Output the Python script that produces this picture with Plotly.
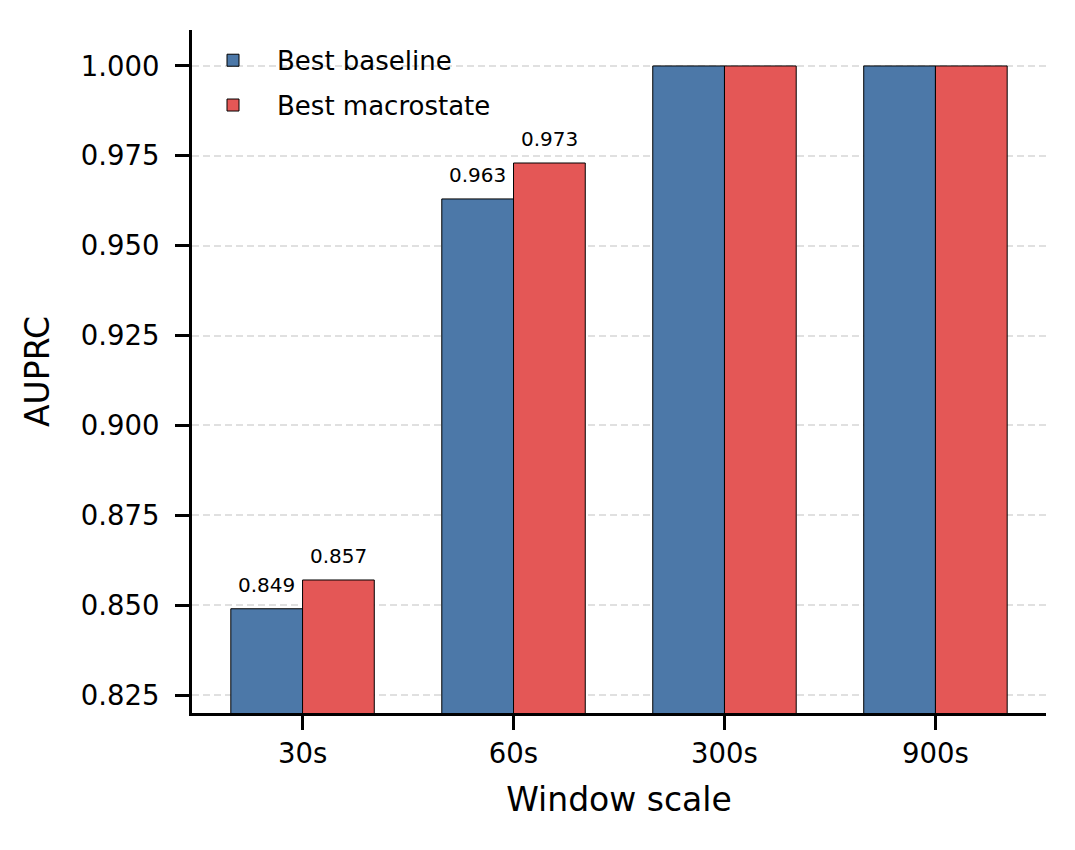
import numpy as np
import plotly.graph_objects as go

# ---- data ----
categories = ["30s", "60s", "300s", "900s"]
baseline = [0.849, 0.963, 1.000, 1.000]
macrostate = [0.857, 0.973, 1.000, 1.000]
series_names = ["Best baseline", "Best macrostate"]
y_ticks = [0.825, 0.850, 0.875, 0.900, 0.925, 0.950, 0.975, 1.000]

# ---- style ----
BLUE = "#4C78A8"
RED = "#E45756"
FONT = "DejaVu Sans"
bar_w = 0.34

x_idx = np.arange(len(categories))
x_base = x_idx - bar_w / 2
x_macro = x_idx + bar_w / 2

fig = go.Figure()
for k, (xs, vals, name, col) in enumerate([(x_base, baseline, series_names[0], BLUE),
                                           (x_macro, macrostate, series_names[1], RED)]):
    fig.add_trace(go.Bar(
        x=xs, y=vals, width=bar_w, name=name, legendgroup=f"g{k}",
        marker=dict(color=col, line=dict(color="black", width=1)),
        hoverinfo="x+y",
    ))
    for xv, v in zip(xs, vals):
        if v < 0.9995:
            fig.add_annotation(
                x=xv, y=v, text=f"{v:.3f}", showarrow=False,
                yanchor="bottom", yshift=10,
                font=dict(family=FONT, size=20, color="black"),
            )

fig.update_layout(
    width=1075, height=850,
    margin=dict(l=192, r=29, t=30, b=137),
    plot_bgcolor="white", paper_bgcolor="white",
    font=dict(family=FONT, size=27.5, color="black"),
    barmode="overlay",
    showlegend=True,
    legend=dict(
        x=-0.0035, y=0.99, xanchor="left", yanchor="top",
        bgcolor="rgba(0,0,0,0)", borderwidth=0,
        font=dict(family=FONT, size=26, color="black"),
        itemwidth=78, tracegroupgap=8,
    ),
)

fig.update_xaxes(
    range=[-0.524, 3.524],
    tickmode="array", tickvals=x_idx, ticktext=categories,
    showline=True, linecolor="black", linewidth=3, mirror=False,
    ticks="outside", ticklen=14, tickwidth=3, tickcolor="black",
    showgrid=False, zeroline=False,
    tickfont=dict(family=FONT, size=27.5, color="black"),
    title=dict(text="Window scale", font=dict(family=FONT, size=33, color="black"), standoff=20),
)
fig.update_yaxes(
    range=[0.82, 1.01],
    tickmode="array", tickvals=y_ticks, ticktext=[f"{t:.3f}" for t in y_ticks],
    showline=True, linecolor="black", linewidth=3, mirror=False,
    ticks="outside", ticklen=14, tickwidth=3, tickcolor="black",
    showgrid=True, gridcolor="#e0e0e0", gridwidth=1.5, griddash="7px,4px",
    zeroline=False,
    ticklabelstandoff=10,
    tickfont=dict(family=FONT, size=27.5, color="black"),
    title=dict(text="AUPRC", font=dict(family=FONT, size=33, color="black"), standoff=22),
)

fig.write_html("out.html")
